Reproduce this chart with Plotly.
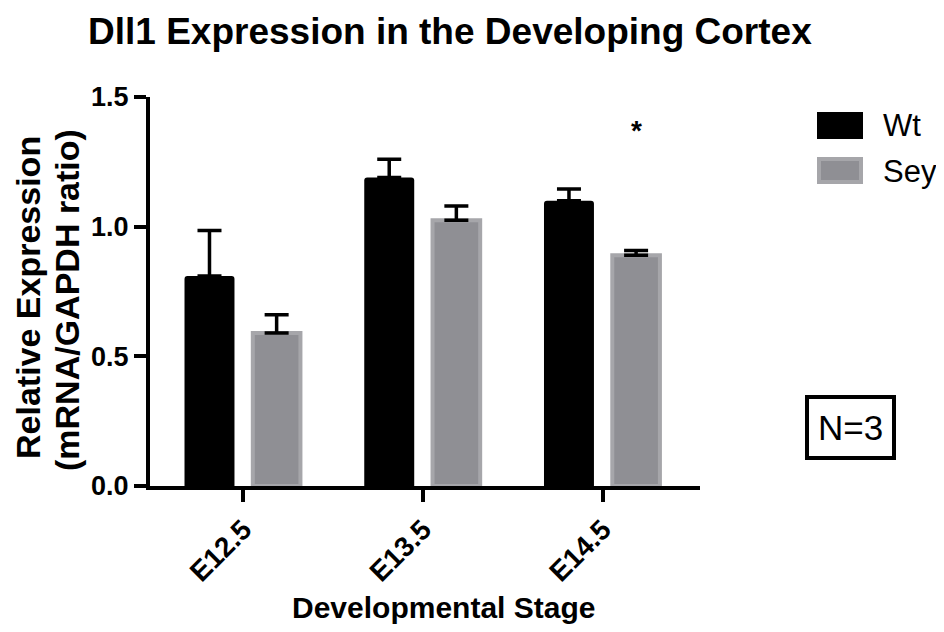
import plotly.graph_objects as go

categories = ["E12.5", "E13.5", "E14.5"]
wt_values = [0.81, 1.19, 1.10]
wt_errors = [0.175, 0.07, 0.045]
sey_values = [0.59, 1.025, 0.89]
sey_errors = [0.07, 0.055, 0.018]
y_tickvals = [0.0, 0.5, 1.0, 1.5]
y_ticktext = ["0.0", "0.5", "1.0", "1.5"]
y_title_lines = ["Relative Expression", "(mRNA/GAPDH ratio)"]

FONT = "Liberation Sans, Arial, Helvetica, sans-serif"
GRAY = "rgb(143,143,148)"
GRAY_EDGE = "rgb(166,166,170)"

# page body has an 8px margin; lay out in reference pixel coords minus this
OFF = 8
W, H = 944 - OFF, 632 - OFF
PL, PR, PT, PB = 150 - OFF, 700 - OFF, 97 - OFF, 486 - OFF


def px_x(p):
    return (p - OFF - PL) / (PR - PL)


def px_y(p):
    return (PB - (p - OFF)) / (PB - PT)


fig = go.Figure()
fig.add_trace(go.Bar(
    x=categories, y=wt_values, name="Wt",
    width=0.278, offset=-0.328,
    marker=dict(color="black", line=dict(color="black", width=0), cornerradius=3),
    error_y=dict(type="data", array=wt_errors, arrayminus=[0, 0, 0], symmetric=False,
                 color="black", thickness=3.5, width=12),
    showlegend=False,
))
fig.add_trace(go.Bar(
    x=categories, y=sey_values, name="Sey",
    width=0.265, offset=0.052,
    marker=dict(color=GRAY, line=dict(color=GRAY_EDGE, width=4)),
    error_y=dict(type="data", array=sey_errors, arrayminus=[0, 0, 0], symmetric=False,
                 color="black", thickness=3.5, width=12),
    showlegend=False,
))

fig.update_layout(
    width=W, height=H,
    margin=dict(l=PL, r=W - PR, t=PT, b=H - PB),
    paper_bgcolor="white", plot_bgcolor="white",
    font=dict(family=FONT, color="black"),
    title=dict(text="Dll1 Expression in the Developing Cortex",
               x=(88 - OFF) / W, xanchor="left", y=1 - (31 - OFF) / H, yanchor="middle",
               font=dict(size=37, family=FONT, weight="bold", color="black")),
)
fig.update_xaxes(
    type="category", range=[-0.52, 2.54],
    showline=True, linewidth=4, linecolor="black",
    ticks="outside", ticklen=12, tickwidth=4, tickcolor="black",
    tickangle=-45, tickfont=dict(size=28, family=FONT, weight="bold"),
    showgrid=False, zeroline=False,
)
fig.update_yaxes(
    range=[0, 1.5], tickvals=y_tickvals, ticktext=y_ticktext,
    showline=True, linewidth=4, linecolor="black",
    ticks="outside", ticklen=12, tickwidth=4, tickcolor="black",
    tickfont=dict(size=27, family=FONT, weight="bold"),
    showgrid=False, zeroline=False,
)

annotations = [
    dict(text=y_title_lines[0], textangle=-90,
         xref="paper", yref="paper", x=px_x(28), y=px_y(298),
         xanchor="center", yanchor="middle", showarrow=False,
         font=dict(size=34, family=FONT, weight="bold")),
    dict(text=y_title_lines[1], textangle=-90,
         xref="paper", yref="paper", x=px_x(67), y=px_y(300),
         xanchor="center", yanchor="middle", showarrow=False,
         font=dict(size=34, family=FONT, weight="bold")),
    dict(text="Developmental Stage",
         xref="paper", yref="paper", x=px_x(443), y=px_y(607),
         xanchor="center", yanchor="middle", showarrow=False,
         font=dict(size=30, family=FONT, weight="bold")),
    dict(text="*", x="E14.5", xshift=34, y=1.37, xref="x", yref="y",
         showarrow=False, font=dict(size=28, family=FONT, weight="bold")),
    dict(text="Wt", xref="paper", yref="paper", x=px_x(881), y=px_y(126),
         xanchor="left", yanchor="middle", showarrow=False, font=dict(size=31, family=FONT)),
    dict(text="Sey", xref="paper", yref="paper", x=px_x(881), y=px_y(171),
         xanchor="left", yanchor="middle", showarrow=False, font=dict(size=31, family=FONT)),
    dict(text="N=3", xref="paper", yref="paper", x=px_x(850), y=px_y(427),
         xanchor="center", yanchor="middle", showarrow=False,
         bordercolor="black", borderwidth=4, borderpad=9, font=dict(size=35, family=FONT)),
]
fig.update_layout(annotations=annotations)

shapes = [
    dict(type="rect", xref="paper", yref="paper",
         x0=px_x(817), x1=px_x(863), y0=px_y(139), y1=px_y(112),
         fillcolor="black", line=dict(color="black", width=0)),
    dict(type="rect", xref="paper", yref="paper",
         x0=px_x(819), x1=px_x(861), y0=px_y(182), y1=px_y(159),
         fillcolor=GRAY, line=dict(color=GRAY_EDGE, width=4)),
]
fig.update_layout(shapes=shapes)

fig.write_html("out.html")
